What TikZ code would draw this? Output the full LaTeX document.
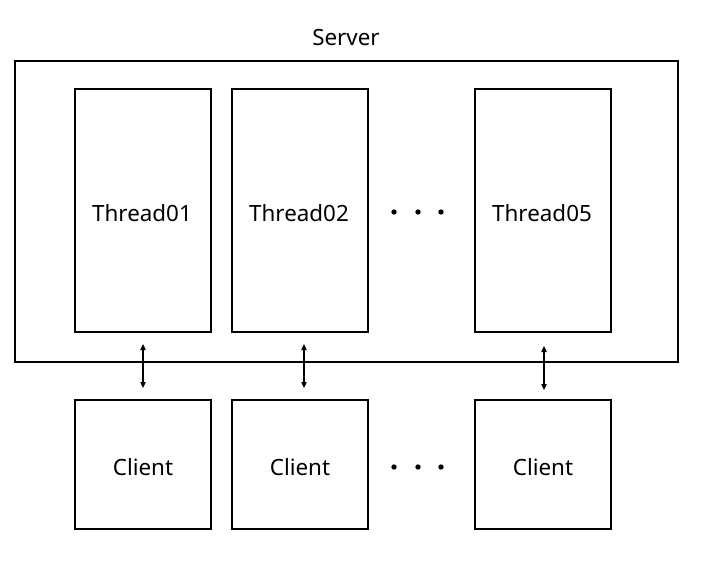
\documentclass[tikz,border=0pt]{standalone}
\usepackage{fontspec}
\setmainfont{Noto Sans}
\usetikzlibrary{arrows.meta}
\begin{document}
\begin{tikzpicture}[x=0.75pt,y=-0.75pt,
  box/.style={draw,line width=0.8pt,inner sep=0pt},
  lbl/.style={font=\fontsize{16.8}{20}\selectfont},
  conn/.style={line width=0.8pt,{Triangle[length=4.5pt,width=4pt]}-{Triangle[length=4.5pt,width=4pt]}},
  dot/.style={circle,fill=black,inner sep=0pt,minimum size=4pt}]
\useasboundingbox (0,0) rectangle (704,563);
\node[box,minimum width=663*0.75pt,minimum height=301*0.75pt] (server) at (346.5,211.5) {};
\node[lbl] (slabel) at (346,38) {Server};
\foreach \n/\x/\t in {t1/143/Thread01,t2/300/Thread02,t5/543/Thread05}{
  \node[box,minimum width=136*0.75pt,minimum height=243*0.75pt] (\n) at (\x,210.5) {};
  \node[lbl] (\n l) at (\x-1,213) {\t};
}
\foreach \n/\x in {c1/143,c2/300,c5/543}{
  \node[box,minimum width=136*0.75pt,minimum height=129*0.75pt] (\n) at (\x,464.5) {};
  \node[lbl] (\n l) at (\x,467) {Client};
}
\coordinate (a1t) at (143,344); \coordinate (a1b) at (143,388);
\coordinate (a2t) at (304,344); \coordinate (a2b) at (304,388);
\coordinate (a5t) at (544,346); \coordinate (a5b) at (544,390);
\draw[conn] (a1t) -- (a1b);
\draw[conn] (a2t) -- (a2b);
\draw[conn] (a5t) -- (a5b);
\foreach \y/\p in {212/u,467/l}{
  \node[dot] (d1\p) at (394,\y) {};
  \node[dot] (d2\p) at (418,\y) {};
  \node[dot] (d3\p) at (441,\y) {};
}
\end{tikzpicture}
\end{document}
